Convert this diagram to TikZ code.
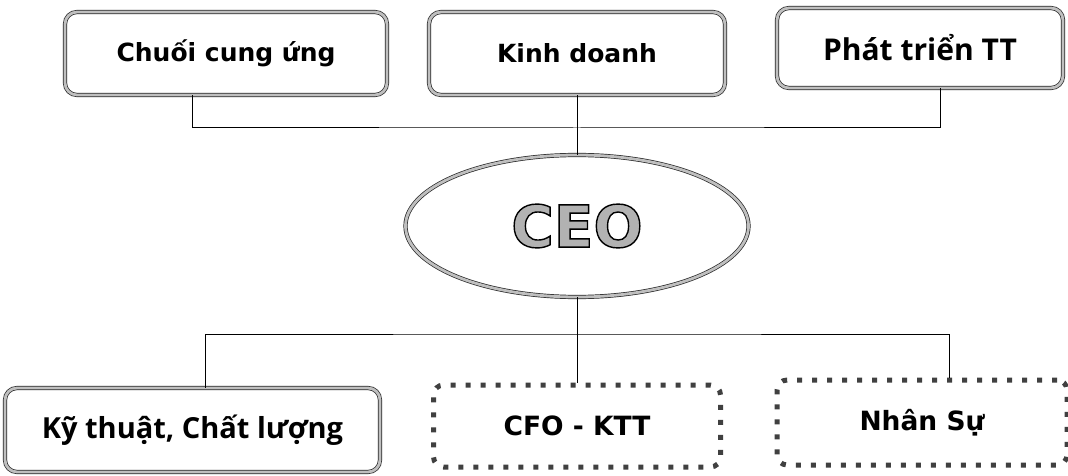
\documentclass[tikz,border=0pt]{standalone}
\usepackage{fontspec}
\setmainfont{DejaVu Sans}
\newfontfamily\opensans{Open Sans}
\usetikzlibrary{shapes.geometric}
\tikzset{
  solidbox/.style={draw=black!85, line width=0.7pt, double=gray!50, double distance=2.8pt,
    rounded corners=12pt, fill=white, inner sep=0pt, align=center},
  dotbox/.style={draw=black!75, line width=5pt, dash pattern=on 5pt off 10pt,
    rounded corners=10pt, inner sep=0pt, align=center},
  ceoshape/.style={ellipse, draw=black!85, line width=0.7pt, double=gray!50, double distance=2.8pt,
    inner sep=0pt},
  link/.style={draw=black, line width=1pt},
  topfont/.style={font=\fontsize{25}{30}\selectfont\bfseries},
  humfont/.style={font=\fontsize{30}{34}\selectfont\opensans\bfseries},
  botfont/.style={font=\fontsize{26.5}{31}\selectfont\bfseries},
}
\begin{document}
\begin{tikzpicture}[x=1pt,y=-1pt]
\useasboundingbox[fill=white] (0,0) rectangle (1068,476);
% top row
\node[solidbox, topfont, minimum width=322pt, minimum height=83pt] (b1) at (226,53.5) {Chuối cung ứng};
\node[solidbox, topfont, minimum width=296pt, minimum height=83pt] (b2) at (577,53.5) {Kinh doanh};
\node[solidbox, humfont, minimum width=286pt, minimum height=80pt] (b3) at (920,48) {Phát triển TT};
% CEO
\node[ceoshape, minimum width=343pt, minimum height=142pt] (ceo) at (577,226)
  {\fontsize{58}{60}\selectfont\bfseries\color{gray!60}\special{pdf:code 0 G 2 Tr 1.4 w}CEO\special{pdf:code 0 Tr}};
% bottom row
\node[solidbox, font=\fontsize{29}{33}\selectfont\opensans\bfseries, minimum width=375pt, minimum height=84pt] (b4) at (192.5,430) {Kỹ thuật, Chất lượng};
\node[dotbox, botfont, minimum width=287pt, minimum height=82pt] (b5) at (577,426) {CFO - KTT};
\node[dotbox, botfont, minimum width=290pt, minimum height=85pt] (b6) at (922,422.5) {Nhân Sự};
% connectors
\coordinate (tbar) at (577,128);
\coordinate (bbar) at (577,334);
\draw[link] ([xshift=-34pt]b1.south) |- (tbar) -| ([xshift=20pt]b3.south);
\draw[link] (b2.south) -- (ceo.north);
\draw[link] (ceo.south) -- (b5.north);
\draw[link] ([xshift=12.5pt]b4.north) |- (bbar) -| ([xshift=27pt]b6.north);
\end{tikzpicture}
\end{document}
